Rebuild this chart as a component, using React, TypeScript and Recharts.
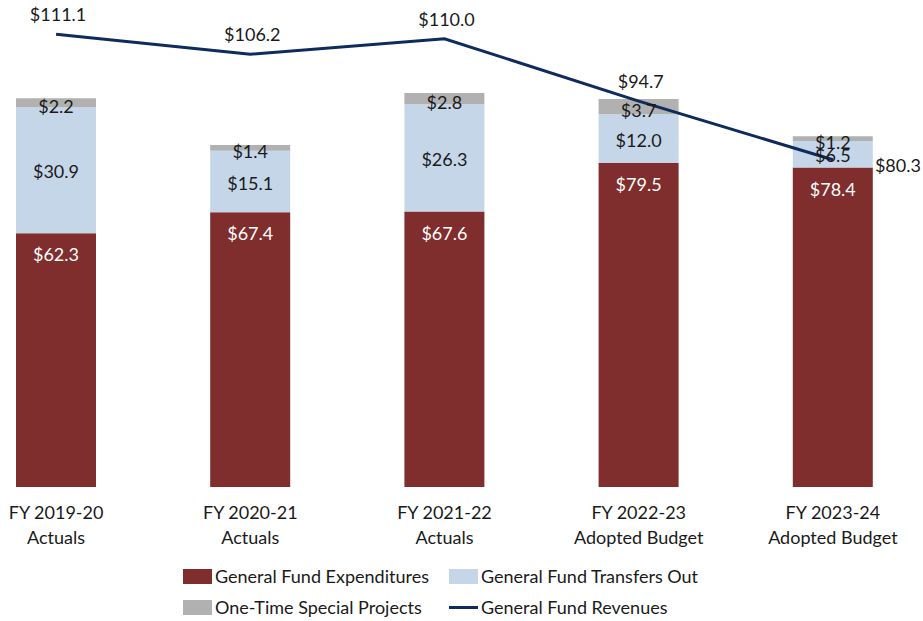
import { ComposedChart, Bar, Line, XAxis, YAxis, LabelList } from "recharts";

const categories = [
  ["FY 2019-20", "Actuals"],
  ["FY 2020-21", "Actuals"],
  ["FY 2021-22", "Actuals"],
  ["FY 2022-23", "Adopted Budget"],
  ["FY 2023-24", "Adopted Budget"],
];
const expenditures = [62.3, 67.4, 67.6, 79.5, 78.4];
const transfersOut = [30.9, 15.1, 26.3, 12.0, 6.5];
const specialProjects = [2.2, 1.4, 2.8, 3.7, 1.2];
const revenues = [111.1, 106.2, 110.0, 94.7, 80.3];

const RED = "#7F2D2D";
const BLUE = "#C6D6E9";
const GRAY = "#B1B1B1";
const NAVY = "#0D2B5C";
const FONT = "Lato, 'Open Sans', sans-serif";

const data = categories.map((c, i) => ({
  name: c.join("|"),
  exp: expenditures[i],
  tr: transfersOut[i],
  sp: specialProjects[i],
  rev: revenues[i],
}));

const money = (v: number) => `$${v.toFixed(1)}`;

const CatTick = (props: any) => {
  const { x, y, payload } = props;
  const [a, b] = String(payload.value).split("|");
  return (
    <g>
      <text x={x} y={y + 17} textAnchor="middle" dominantBaseline="central" fontSize={18} fill="#1a1a1a" fontFamily={FONT}>{a}</text>
      <text x={x} y={y + 42} textAnchor="middle" dominantBaseline="central" fontSize={18} fill="#1a1a1a" fontFamily={FONT}>{b}</text>
    </g>
  );
};

const redLabel = (p: any) => (
  <text x={p.x + p.width / 2} y={p.y + 21} textAnchor="middle" dominantBaseline="central" fontSize={18} fill="#ffffff" fontFamily={FONT}>
    {money(p.value)}
  </text>
);

const midLabel = (p: any) => (
  <text x={p.x + p.width / 2} y={p.y + p.height / 2 + 1} textAnchor="middle" dominantBaseline="central" fontSize={18} fill="#1a1a1a" fontFamily={FONT}>
    {money(p.value)}
  </text>
);

const grayLabel = (p: any) => (
  <text x={p.x + p.width / 2} y={p.y + p.height / 2 + 3} textAnchor="middle" dominantBaseline="central" fontSize={18} fill="#1a1a1a" fontFamily={FONT}>
    {money(p.value)}
  </text>
);

const lineLabel = (p: any) => {
  const last = p.index === revenues.length - 1;
  return (
    <text
      x={last ? p.x + 42 : p.x + 2}
      y={last ? p.y + 5 : p.y - 20}
      textAnchor={last ? "start" : "middle"}
      dominantBaseline="central"
      fontSize={18}
      fill="#1a1a1a"
      fontFamily={FONT}
    >
      {money(p.value)}
    </text>
  );
};

const legendItems = [
  { label: "General Fund Expenditures", color: RED, kind: "box", left: 183, top: 576 },
  { label: "General Fund Transfers Out", color: BLUE, kind: "box", left: 449, top: 576 },
  { label: "One-Time Special Projects", color: GRAY, kind: "box", left: 183, top: 607 },
  { label: "General Fund Revenues", color: NAVY, kind: "line", left: 449, top: 607 },
];

export default function App() {
  return (
    <div style={{ position: "fixed", left: 0, top: 0, width: 923, height: 621, overflow: "hidden", background: "#fff", fontFamily: FONT }}>
      <div style={{ position: "absolute", left: -41, top: -2 }}>
        <ComposedChart width={971} height={570} data={data} margin={{ top: 0, right: 0, bottom: 0, left: 0 }} barCategoryGap={0}>
          <XAxis dataKey="name" axisLine={false} tickLine={false} height={81} tick={<CatTick />} interval={0} />
          <YAxis hide domain={[0, 120]} />
          <Bar dataKey="exp" stackId="a" fill={RED} barSize={80} isAnimationActive={false}>
            <LabelList dataKey="exp" content={redLabel} />
          </Bar>
          <Bar dataKey="tr" stackId="a" fill={BLUE} barSize={80} isAnimationActive={false}>
            <LabelList dataKey="tr" content={midLabel} />
          </Bar>
          <Bar dataKey="sp" stackId="a" fill={GRAY} barSize={80} isAnimationActive={false}>
            <LabelList dataKey="sp" content={grayLabel} />
          </Bar>
          <Line dataKey="rev" stroke={NAVY} strokeWidth={3} dot={false} activeDot={false} type="linear" isAnimationActive={false}>
            <LabelList dataKey="rev" content={lineLabel} />
          </Line>
        </ComposedChart>
      </div>
      {legendItems.map((it) => (
        <div key={it.label} style={{ position: "absolute", left: it.left, top: it.top - 12, height: 24, display: "flex", alignItems: "center", fontSize: 18, color: "#1a1a1a", whiteSpace: "nowrap" }}>
          {it.kind === "box" ? (
            <span style={{ display: "inline-block", width: 29, height: 15, background: it.color, marginRight: 3 }} />
          ) : (
            <span style={{ display: "inline-block", width: 29, height: 3, background: it.color, marginRight: 3 }} />
          )}
          {it.label}
        </div>
      ))}
    </div>
  );
}
